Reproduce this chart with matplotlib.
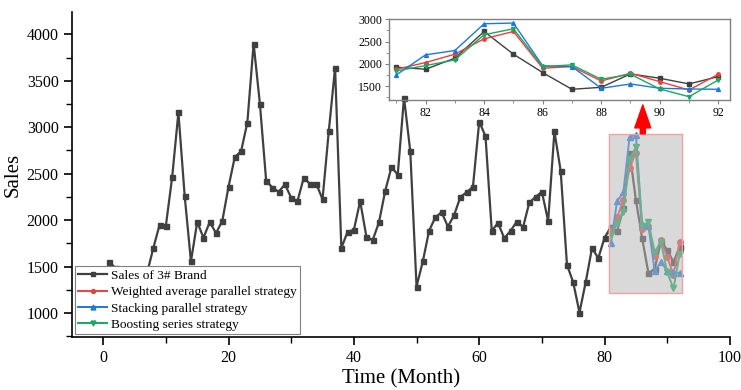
import matplotlib
matplotlib.use("Agg")
import matplotlib.pyplot as plt
from matplotlib.patches import Rectangle
from matplotlib.ticker import MultipleLocator

plt.rcParams['font.family'] = ['Liberation Serif', 'DejaVu Serif']

months = list(range(1, 93))
sales = [1550, 1480, 1380, 1250, 1320, 1200, 1430, 1700, 1950, 1940,
         2460, 3160, 2260, 1555, 1980, 1810, 1980, 1860, 1990, 2360,
         2680, 2740, 3050, 3900, 3255, 2425, 2350, 2305, 2385, 2240,
         2205, 2455, 2390, 2390, 2225, 2960, 3640, 1700, 1875, 1895,
         2205, 1820, 1785, 1975, 2315, 2570, 2490, 3320, 2740, 1285,
         1555, 1885, 2030, 2085, 1930, 2055, 2250, 2300, 2360, 3060,
         2905, 1885, 1970, 1805, 1885, 1985, 1925, 2190, 2250, 2305,
         1990, 2955, 2530, 1520, 1330, 1005, 1335, 1700, 1590, 1810,
         1925, 1880, 2128, 2727, 2218, 1805, 1430, 1475, 1775, 1678,
         1550, 1715]

pred_months = list(range(81, 93))
weighted = [1880, 2030, 2218, 2563, 2727, 1903, 1940, 1617, 1790, 1602, 1414, 1768]
stacking = [1752, 2203, 2300, 2900, 2916, 1955, 1940, 1453, 1550, 1453, 1437, 1430]
boosting = [1842, 1962, 2090, 2653, 2788, 1940, 1977, 1655, 1768, 1437, 1264, 1640]

labels = ['Sales of 3# Brand', 'Weighted average parallel strategy',
          'Stacking parallel strategy', 'Boosting series strategy']

c_black = '#404040'
c_red = '#f23c3c'
c_blue = '#1e78dc'
c_green = '#18a85e'

fig = plt.figure(figsize=(7.41, 3.90), dpi=100)
ax = fig.add_axes([0.097, 0.136, 0.888, 0.833])

ax.plot(months, sales, color=c_black, lw=1.6, marker='s', ms=3.6, label=labels[0], zorder=2)
ax.plot(pred_months, weighted, color=c_red, lw=1.4, marker='o', ms=4, label=labels[1], zorder=3)
ax.plot(pred_months, stacking, color=c_blue, lw=1.4, marker='^', ms=5, label=labels[2], zorder=3)
ax.plot(pred_months, boosting, color=c_green, lw=1.4, marker='v', ms=5, label=labels[3], zorder=3)

ax.add_patch(Rectangle((80.75, 1220), 92.4 - 80.75, 2930 - 1220,
                       facecolor=(0.72, 0.72, 0.72, 0.53), edgecolor='#f4a0a0',
                       lw=1.0, zorder=5))

ax.annotate('', xy=(86.1, 3240), xytext=(86.1, 2930),
            arrowprops=dict(arrowstyle='simple,head_width=1.15,head_length=1.65,tail_width=0.36',
                            color='#ff0000', shrinkA=0, shrinkB=0, mutation_scale=10),
            zorder=6)

ax.set_xlim(-5, 100)
ax.set_ylim(742, 4240)
ax.set_xticks([0, 20, 40, 60, 80, 100])
ax.xaxis.set_minor_locator(MultipleLocator(10))
ax.set_yticks([1000, 1500, 2000, 2500, 3000, 3500, 4000])
ax.yaxis.set_minor_locator(MultipleLocator(250))
ax.spines['top'].set_visible(False)
ax.spines['right'].set_visible(False)
for s in ['left', 'bottom']:
    ax.spines[s].set_linewidth(1.2)
ax.tick_params(axis='both', which='major', direction='out', length=6, width=1.2, labelsize=11.5)
ax.tick_params(axis='both', which='minor', direction='out', length=4, width=1.0)
ax.set_xlabel('Time (Month)', fontsize=15, labelpad=2)
ax.set_ylabel('Sales', fontsize=15, labelpad=3)

leg = ax.legend(loc='lower left', bbox_to_anchor=(0.0, 0.0), fontsize=9.6,
                frameon=True, fancybox=False, edgecolor='#808080', framealpha=1,
                handlelength=2.2, handletextpad=0.3, labelspacing=0.3,
                borderpad=0.25, borderaxespad=0.2, markerscale=0.7)
leg.get_frame().set_linewidth(0.8)
leg.set_zorder(10)

axin = fig.add_axes([389 / 741, (390 - 100) / 390, (730 - 389) / 741, (100 - 19.3) / 390])
axin.set_facecolor('none')
axin.plot(pred_months, sales[80:], color=c_black, lw=1.0, marker='s', ms=2.5)
axin.plot(pred_months, weighted, color=c_red, lw=1.0, marker='o', ms=2.5)
axin.plot(pred_months, stacking, color=c_blue, lw=1.0, marker='^', ms=2.8)
axin.plot(pred_months, boosting, color=c_green, lw=1.0, marker='v', ms=2.8)
axin.set_xlim(80.75, 92.4)
axin.set_ylim(1190, 3000)
axin.set_xticks([82, 84, 86, 88, 90, 92])
axin.xaxis.set_minor_locator(MultipleLocator(1))
axin.set_yticks([1500, 2000, 2500, 3000])
axin.yaxis.set_minor_locator(MultipleLocator(250))
for s in axin.spines.values():
    s.set_color('#808080')
    s.set_linewidth(1.0)
axin.tick_params(axis='both', which='major', direction='out', length=3, width=0.8,
                 color='#808080', labelsize=8.5, pad=2)
axin.tick_params(axis='both', which='minor', direction='out', length=2, width=0.6, color='#808080')

fig.savefig('out.png', dpi=100)
